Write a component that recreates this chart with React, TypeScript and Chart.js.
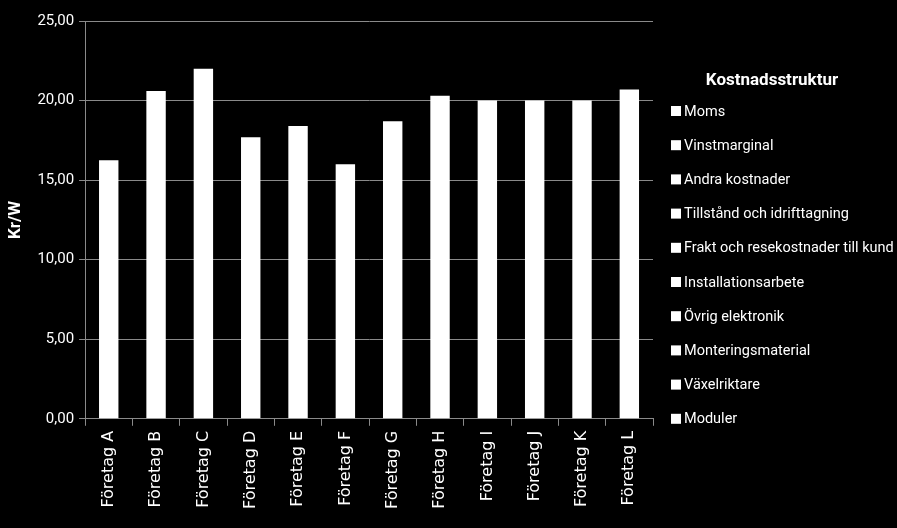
import React, { useEffect, useRef } from "react";
import { Chart, registerables } from "chart.js";

Chart.register(...registerables);

const categories = [
  "Företag A", "Företag B", "Företag C", "Företag D", "Företag E", "Företag F",
  "Företag G", "Företag H", "Företag I", "Företag J", "Företag K", "Företag L",
];
const totals = [16.25, 20.6, 22.0, 17.7, 18.4, 16.0, 18.7, 20.3, 20.0, 20.0, 20.0, 20.7];
const legendItems = [
  "Moms",
  "Vinstmarginal",
  "Andra kostnader",
  "Tillstånd och idrifttagning",
  "Frakt och resekostnader till kund",
  "Installationsarbete",
  "Övrig elektronik",
  "Monteringsmaterial",
  "Växelriktare",
  "Moduler",
];
const legendTitle = "Kostnadsstruktur";
const yTitle = "Kr/W";

const FONT = "Roboto, 'Open Sans', sans-serif";

const sideLegend = {
  id: "sideLegend",
  afterDraw(chart: any, _args: any, opts: any) {
    const { ctx, chartArea } = chart;
    const x0 = chartArea.right + opts.offsetX;
    ctx.save();
    ctx.fillStyle = "#ffffff";
    ctx.textBaseline = "middle";
    ctx.textAlign = "center";
    ctx.font = `bold 17px ${FONT}`;
    ctx.fillText(opts.title, x0 + opts.titleDx, opts.titleY);
    ctx.textAlign = "left";
    ctx.font = `14.5px ${FONT}`;
    opts.items.forEach((t: string, i: number) => {
      const y = opts.firstY + i * opts.step;
      ctx.fillRect(x0, y - 5, 10, 10);
      ctx.fillText(t, x0 + 13, y + 1);
    });
    ctx.restore();
  },
};

export default function App() {
  const ref = useRef<HTMLCanvasElement | null>(null);
  useEffect(() => {
    if (!ref.current) return;
    const chart = new Chart(ref.current, {
      type: "bar",
      data: {
        labels: categories,
        datasets: [
          {
            label: "Totalt",
            data: totals,
            backgroundColor: "#ffffff",
            borderWidth: 0,
            barPercentage: 0.41,
            categoryPercentage: 1,
          },
        ],
      },
      plugins: [sideLegend],
      options: {
        animation: false,
        responsive: false,
        layout: { padding: { top: 21, right: 244, left: 6, bottom: 14 } },
        plugins: {
          tooltip: { enabled: false },
          legend: { display: false },
          sideLegend: {
            title: legendTitle,
            items: legendItems,
            offsetX: 18,
            titleDx: 101,
            titleY: 81,
            firstY: 111,
            step: 34.2,
          },
        } as any,
        scales: {
          x: {
            grid: {
              display: true,
              drawOnChartArea: false,
              drawTicks: true,
              tickLength: 7,
              color: "#8a8a8a",
              offset: true,
            },
            border: { display: true, color: "#8a8a8a" },
            ticks: {
              color: "#ffffff",
              maxRotation: 90,
              minRotation: 90,
              font: { family: "'DejaVu Sans', sans-serif", size: 16 },
              padding: 5,
            },
          },
          y: {
            min: 0,
            max: 25,
            grid: { color: "#8a8a8a", tickLength: 6 },
            border: { display: true, color: "#8a8a8a" },
            ticks: {
              stepSize: 5,
              color: "#ffffff",
              font: { family: FONT, size: 15 },
              padding: 5,
              callback: (v: any) => Number(v).toFixed(2).replace(".", ","),
            },
            title: {
              display: true,
              text: yTitle,
              color: "#ffffff",
              font: { family: FONT, size: 17, weight: "bold" },
              padding: { top: 0, bottom: 6 },
            },
          },
        },
      },
    });
    return () => chart.destroy();
  }, []);
  return (
    <div style={{ position: "absolute", left: 0, top: 0, width: 897, height: 528, background: "#000" }}>
      <canvas ref={ref} width={897} height={528} style={{ display: "block" }} />
    </div>
  );
}
